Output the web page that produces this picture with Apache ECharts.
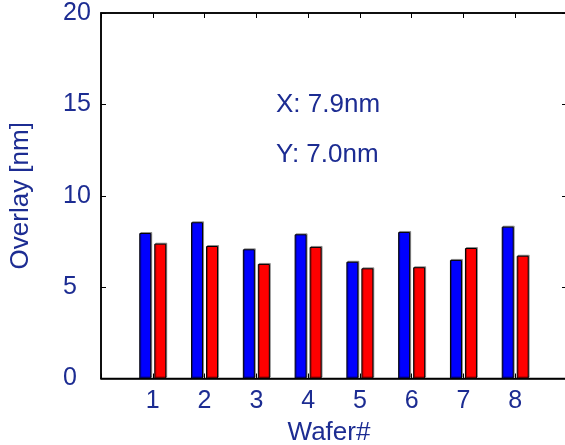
<!DOCTYPE html>
<html>
<head>
<meta charset="utf-8">
<script src="https://cdn.jsdelivr.net/npm/echarts@6/dist/echarts.min.js"></script>
<style>html,body{margin:0;padding:0;background:#fff;}#c{width:565px;height:445px;}</style>
</head>
<body>
<div id="c"></div>
<script>
var wafers = [1, 2, 3, 4, 5, 6, 7, 8];
var xValues = [7.96, 8.55, 7.07, 7.89, 6.39, 8.02, 6.49, 8.31];
var yValues = [7.38, 7.25, 6.27, 7.20, 6.03, 6.09, 7.14, 6.72];
var yTicks = [0, 5, 10, 15, 20];
var annotations = ['X: 7.9nm', 'Y: 7.0nm'];

var txt = '#1c2c92';
var font = 'Liberation Sans, Arial, sans-serif';
var chart = echarts.init(document.getElementById('c'));
function pairs(v) { return wafers.map(function (w, i) { return [w, v[i]]; }); }
var barStyle = function (c) {
  return { color: c, borderColor: '#000', borderWidth: 1, shadowColor: 'rgba(0,0,0,0.35)', shadowOffsetX: 1, shadowOffsetY: -1, shadowBlur: 0 };
};
var tick = { show: true, inside: true, length: 5, lineStyle: { color: '#000', width: 1 } };
chart.setOption({
  animation: false,
  grid: { left: 101, top: 13, width: 466, height: 365.5, containLabel: false, outerBoundsMode: 'none',
    show: true, borderColor: '#000', borderWidth: 1.5, backgroundColor: 'transparent' },
  xAxis: [{
    type: 'value', gridIndex: 0, min: 0, max: 9, interval: 1, position: 'bottom',
    name: 'Wafer#', nameLocation: 'middle', nameGap: 41,
    nameTextStyle: { color: txt, fontSize: 26, fontFamily: font, padding: [0, 10, 0, 0] },
    axisLine: { show: true, onZero: false, lineStyle: { color: '#000', width: 1.5 } },
    axisTick: tick,
    axisLabel: { color: txt, fontSize: 25, fontFamily: font, margin: 10,
      formatter: function (v) { return wafers.indexOf(v) >= 0 ? String(v) : ''; } },
    splitLine: { show: false }
  }, {
    type: 'value', gridIndex: 0, min: 0, max: 9, interval: 1, position: 'top',
    axisLine: { show: true, onZero: false, lineStyle: { color: '#000', width: 1.5 } },
    axisTick: tick,
    axisLabel: { show: false }, splitLine: { show: false }
  }],
  yAxis: [{
    type: 'value', gridIndex: 0, min: yTicks[0], max: yTicks[yTicks.length - 1], interval: 5, position: 'left',
    name: 'Overlay [nm]', nameLocation: 'middle', nameGap: 67,
    nameTextStyle: { color: txt, fontSize: 26, fontFamily: font },
    axisLine: { show: true, onZero: false, lineStyle: { color: '#000', width: 1.5 } },
    axisTick: tick,
    axisLabel: { color: txt, fontSize: 25, fontFamily: font, align: 'left', margin: 38 },
    splitLine: { show: false }
  }, {
    type: 'value', gridIndex: 0, min: 0, max: 20, interval: 5, position: 'right',
    axisLine: { show: true, onZero: false, lineStyle: { color: '#000', width: 1.5 } },
    axisTick: tick,
    axisLabel: { show: false }, splitLine: { show: false }
  }],
  series: [{
    type: 'bar', data: pairs(xValues), barWidth: 12, barGap: '25%',
    itemStyle: barStyle('#0000ff')
  }, {
    type: 'bar', data: pairs(yValues), barWidth: 12, barGap: '25%',
    itemStyle: barStyle('#ff0000')
  }],
  graphic: annotations.map(function (t, i) {
    return { type: 'text', left: 276, top: 92 + i * 50,
      style: { text: t, fill: txt, fontSize: 26, fontFamily: font } };
  })
});
</script>
</body>
</html>
